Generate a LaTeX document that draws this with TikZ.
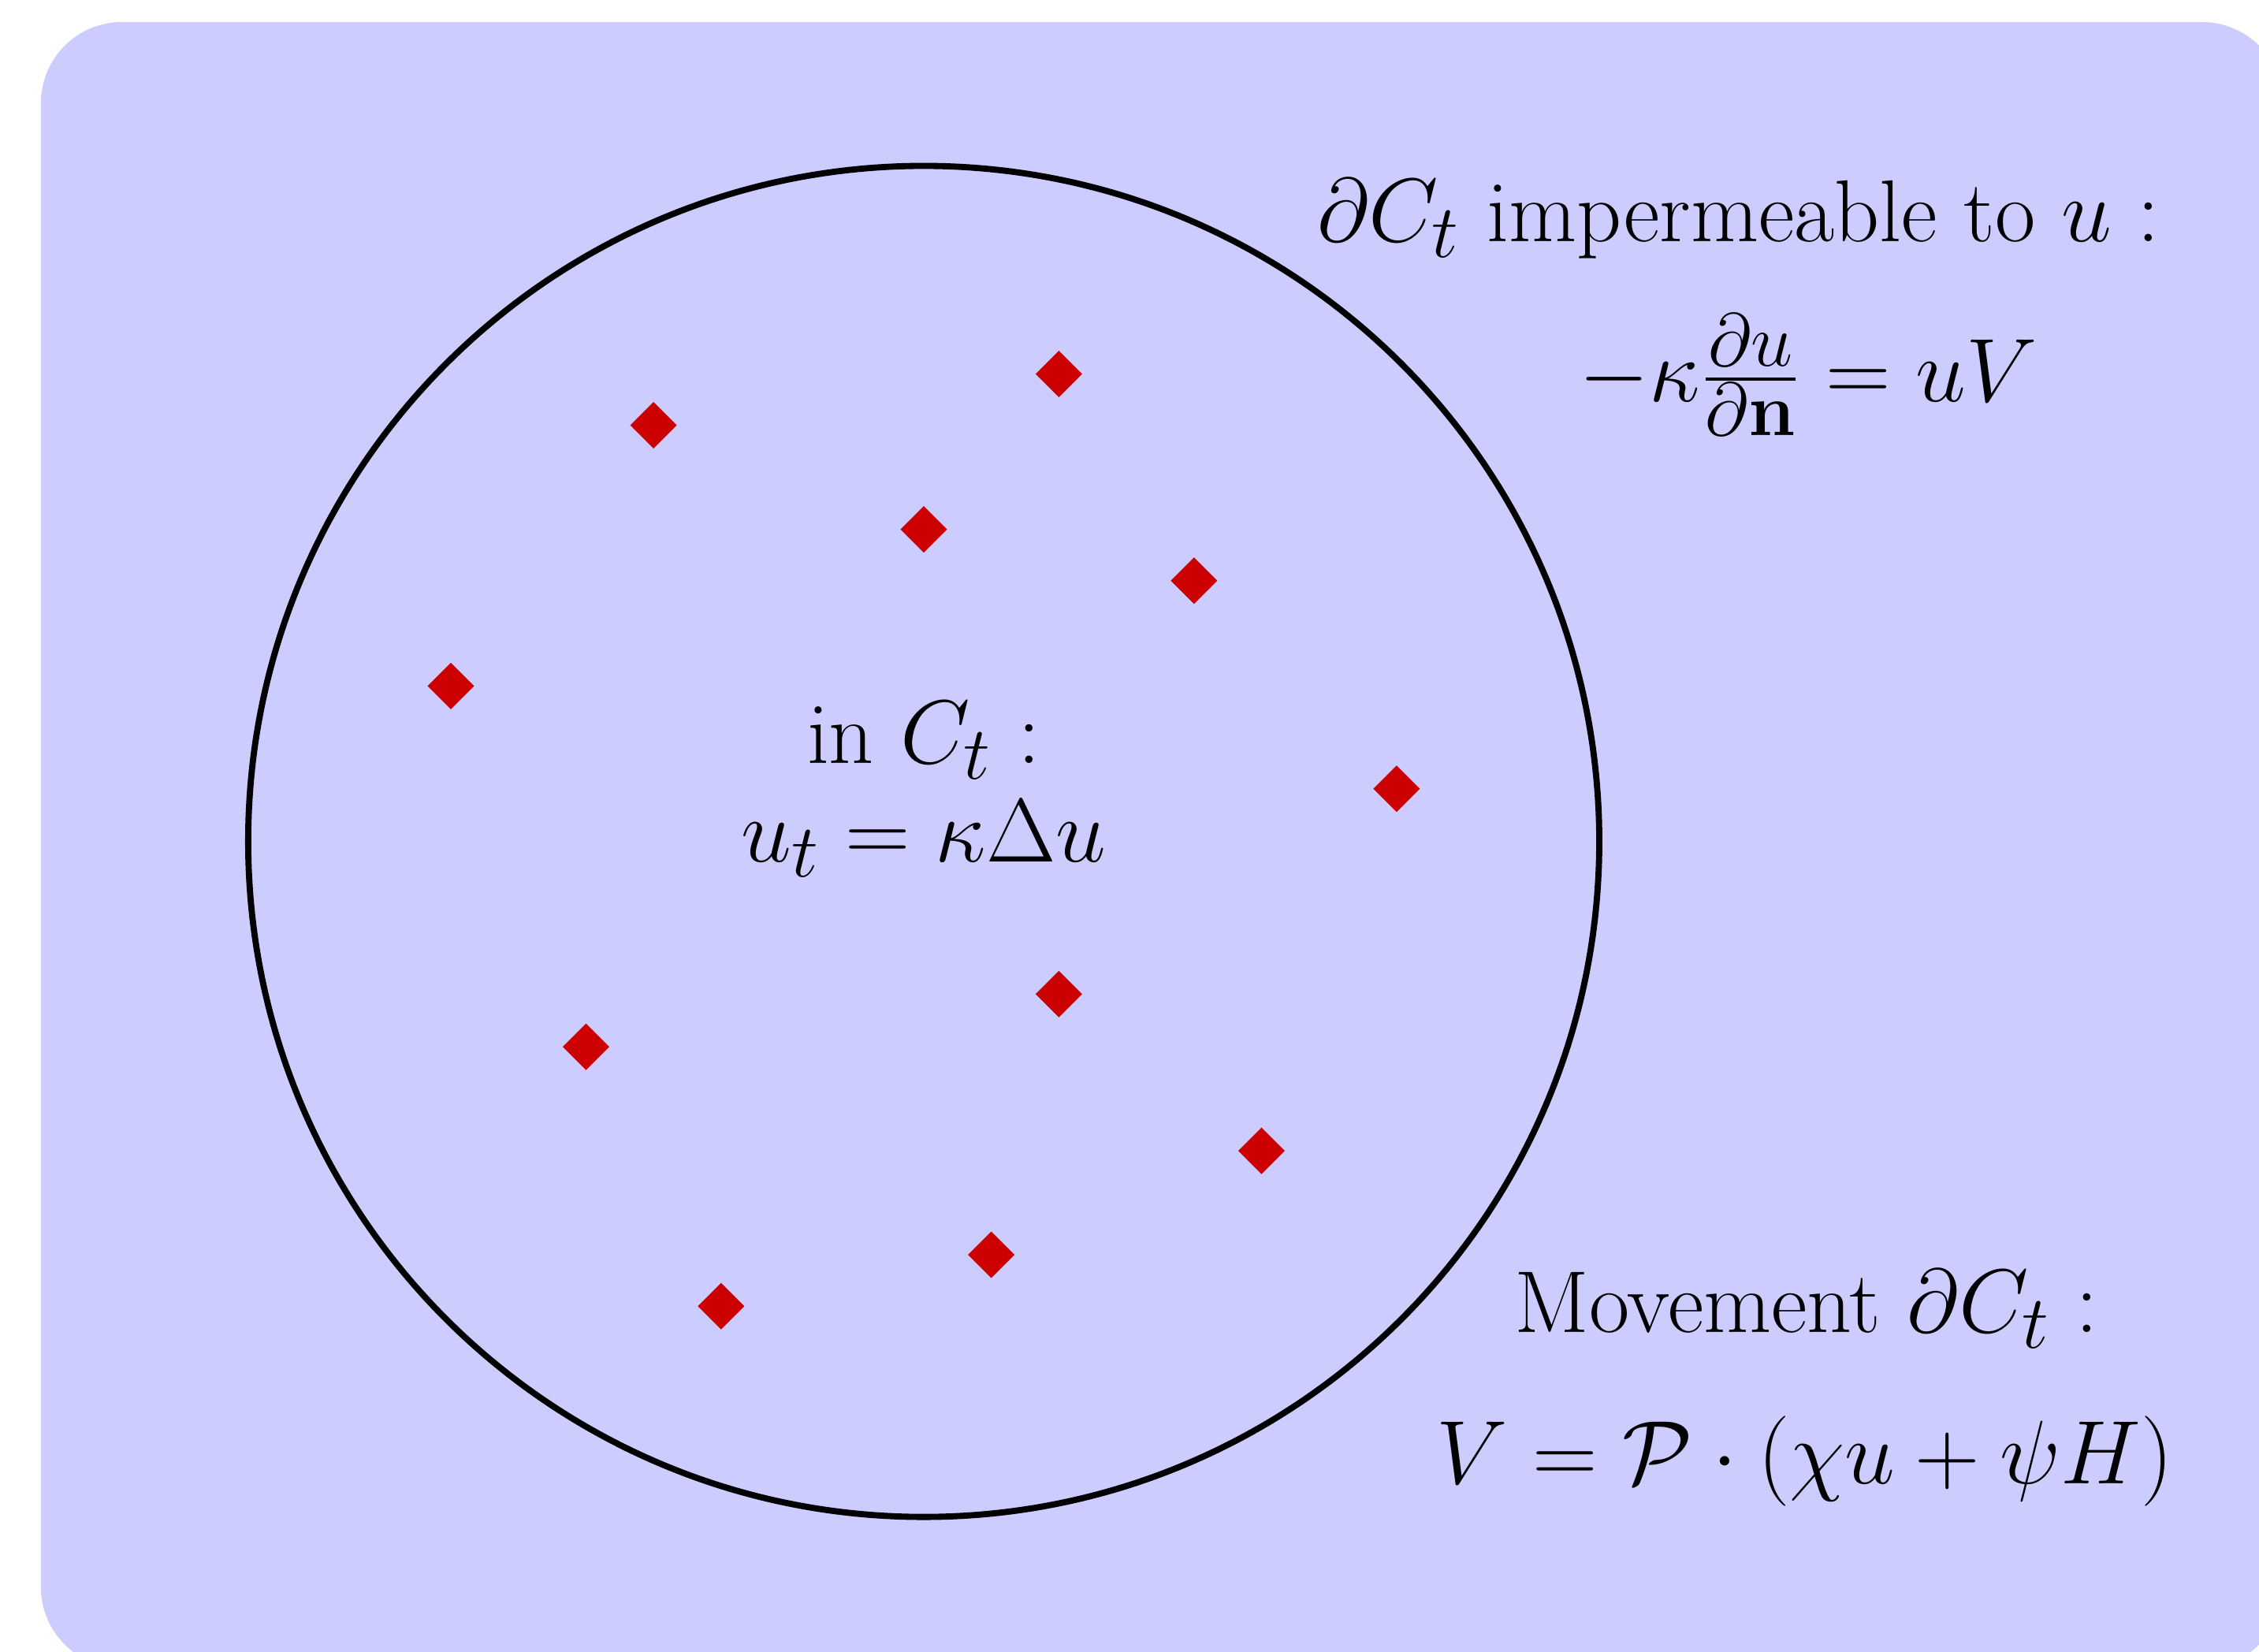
\RequirePackage{fix-cm}
\documentclass[tikz,border=0pt]{standalone}
\usepackage{tikz}
\usetikzlibrary{shapes.geometric,positioning}
\usepackage{amsmath}
\DeclareMathSizes{18.5}{19}{15.8}{13.3}
\definecolor{panel}{RGB}{204,204,255}
\definecolor{sitec}{RGB}{204,0,0}
\tikzset{
  bgpanel/.style={fill=panel,draw=none,rounded corners=0.6cm},
  membrane/.style={draw=black,line width=1.3pt},
  site/.style={diamond,fill=sitec,draw=none,inner sep=0pt,
    minimum size=0.35cm},
  lbl/.style={inner sep=0pt,anchor=base,
    font=\fontsize{18.5}{22}\selectfont},
}
\begin{document}
\begin{tikzpicture}

    % ── Frame ─────────────────────────────────────────────────────────────────
    \useasboundingbox (-6.837,-5.994) rectangle (9.883,6.228);
    \begin{scope}
      \clip (-6.837,-5.994) rectangle (9.883,6.228);
      \fill[bgpanel] (-6.534,-6.12) rectangle (10.06,6.065);
    \end{scope}

    % ── Cell and sites ────────────────────────────────────────────────────────
    \node[membrane,circle,minimum size=10cm,inner sep=0pt] (cell) at (0,0) {};

    \foreach \x/\y [count=\i] in {1.0/3.46, -2.0/3.08, 0/2.31, 2.0/1.93,
        -3.5/1.15, 3.5/0.39, 1.0/-1.13, -2.5/-1.52, 2.5/-2.29,
        0.5/-3.06, -1.5/-3.44}
      \node[site] (d\i) at (\x,\y) {};

    % ── Bulk equation ─────────────────────────────────────────────────────────
    \node[lbl] (incell) at (0,0.575) {in $C_t:$};
    \node[lbl] (heat)   at (0,-0.149) {$u_t=\kappa\Delta u$};

    % ── Boundary conditions ───────────────────────────────────────────────────
    \node[lbl] (imp)  at (6.03,4.437)  {$\partial C_t$ impermeable to $u:$};
    \node[lbl] (flux) at (6.546,3.257)
      {$-\kappa\frac{\partial u}{\partial\mathbf{n}}=uV$};

    \node[lbl] (mov)  at (6.535,-3.637) {Movement $\partial C_t:$};
    \node[lbl] (vel)  at (6.52,-4.757)
      {$V=\mathcal{P}\cdot(\chi u+\psi H)$};

\end{tikzpicture}
\end{document}
